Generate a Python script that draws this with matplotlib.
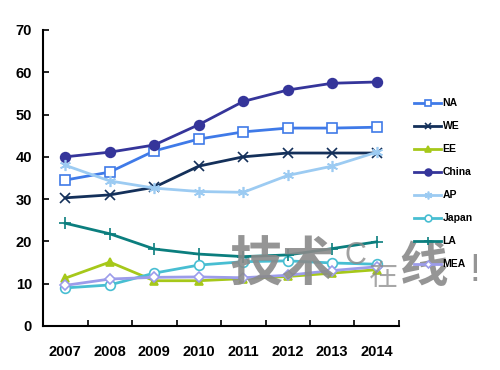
import matplotlib
matplotlib.use("Agg")
import matplotlib.pyplot as plt

# data
years = ["2007", "2008", "2009", "2010", "2011", "2012", "2013", "2014"]
na = [34.5, 36.4, 41.4, 44.2, 45.9, 46.8, 46.8, 47.0]
we = [30.3, 31.0, 32.8, 37.8, 40.0, 40.9, 40.9, 40.9]
ee = [11.3, 15.1, 10.7, 10.7, 11.2, 11.7, 12.5, 13.3]
china = [40.0, 41.1, 42.8, 47.6, 53.1, 55.8, 57.4, 57.7]
ap = [38.0, 34.3, 32.6, 31.8, 31.6, 35.6, 37.8, 41.1]
japan = [9.0, 9.7, 12.5, 14.4, 15.2, 15.4, 14.9, 14.6]
la = [24.3, 21.8, 18.2, 17.0, 16.4, 16.8, 18.3, 19.9]
mea = [9.6, 11.1, 11.5, 11.6, 11.4, 12.0, 13.1, 14.0]

plt.rcParams['font.family'] = ['Liberation Sans', 'Noto Sans CJK SC', 'DejaVu Sans']

fig = plt.figure(figsize=(5, 3.7), dpi=100)
ax = fig.add_axes([0.086, 0.119, 0.712, 0.8])

x = list(range(len(years)))
# (label, values, colour, marker, marker face, size)
series = [
    ("NA", na, "#3F7AE8", "s", "white", 7),
    ("WE", we, "#14305A", "x", "#14305A", 7),
    ("EE", ee, "#A6C81A", "^", "#A6C81A", 6),
    ("China", china, "#35359A", "o", "#35359A", 7),
    ("AP", ap, "#9CCBF2", (6, 2, 0), "#9CCBF2", 8),
    ("Japan", japan, "#48BED2", "o", "white", 7),
    ("LA", la, "#0B7E7E", "+", "#0B7E7E", 8),
    ("MEA", mea, "#9C9CEA", "D", "white", 5),
]
for name, vals, col, mk, mfc, ms in series:
    ax.plot(x, vals, color=col, lw=2, marker=mk, markerfacecolor=mfc,
            markeredgecolor=col, markersize=ms, markeredgewidth=1.2, label=name)

ax.set_xlim(-0.5, len(years) - 0.5)
ax.set_ylim(0, 70)
ax.set_yticks(range(0, 71, 10))
ax.set_xticks(x)
ax.set_xticklabels(years)
ax.set_xticks([i + 0.5 for i in range(len(years))], minor=True)
ax.tick_params(axis='x', which='major', length=0, pad=14)
ax.tick_params(axis='x', which='minor', length=4, width=1.2, direction='in')
ax.tick_params(axis='y', length=4, width=1.2, direction='in', pad=8)
for lab in ax.get_xticklabels() + ax.get_yticklabels():
    lab.set_fontweight('bold')
    lab.set_fontsize(10.5)
for s in ['top', 'right']:
    ax.spines[s].set_visible(False)
for s in ['left', 'bottom']:
    ax.spines[s].set_linewidth(1.5)

leg = fig.legend(loc='upper left', bbox_to_anchor=(0.81, 0.76), frameon=False,
                 handlelength=2.6, labelspacing=1.25, handletextpad=0.1,
                 markerscale=0.7, prop={'weight': 'bold', 'size': 7.5})

# watermark
wm = "#8a8a8a"
fig.text(0.46, 0.212, "技术", fontsize=38, color=wm, alpha=0.9, va='bottom',
         fontweight='bold', family=['Noto Sans CJK SC'])
fig.text(0.69, 0.268, "C", fontsize=22, color=wm, alpha=0.8, va='bottom')
fig.text(0.738, 0.212, "在", fontsize=21, color=wm, alpha=0.75, va='bottom',
         family=['Noto Sans CJK SC'])
fig.text(0.798, 0.212, "线", fontsize=35, color=wm, alpha=0.9, va='bottom',
         fontweight='bold', family=['Noto Sans CJK SC'])
fig.text(0.95, 0.22, "!", fontsize=28, color=wm, alpha=0.9, va='bottom', ha='center')

fig.savefig("out.png", dpi=100)
